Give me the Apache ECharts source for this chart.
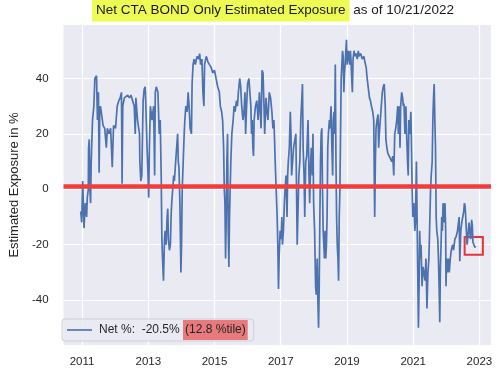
<!DOCTYPE html>
<html>
<head>
<meta charset="utf-8">
<script src="https://cdn.jsdelivr.net/npm/echarts@6/dist/echarts.min.js"></script>
<style>html,body{margin:0;padding:0;background:#fff}#c{width:500px;height:376px}</style>
</head>
<body>
<div id="c"></div>
<script>
// Decimal-year dates and estimated net exposure (%)
const years = [
2010.959,2010.989,2011.019,2011.059,2011.098,2011.138,2011.158,2011.188,2011.197,2011.217,2011.237,2011.257,2011.277,2011.316,2011.356,2011.386,2011.436,2011.465,2011.495,2011.515,2011.535,2011.555,2011.614,2011.634,2011.684,2011.733,2011.763,2011.813,2011.862,2011.912,2011.951,2012.011,2012.061,2012.110,2012.150,2012.190,2012.209,2012.229,2012.279,2012.328,2012.378,2012.428,2012.477,2012.527,2012.576,2012.606,2012.626,2012.675,2012.735,2012.745,2012.775,2012.804,2012.844,2012.874,2012.904,
2012.914,2012.963,2012.993,2013.013,2013.033,2013.063,2013.112,2013.162,2013.192,2013.211,2013.241,2013.291,2013.330,2013.360,2013.390,2013.410,2013.430,2013.459,2013.489,2013.509,2013.539,2013.569,2013.588,2013.608,2013.638,2013.668,2013.688,2013.707,2013.737,2013.767,2013.787,2013.827,2013.856,2013.886,2013.906,2013.926,2013.955,2013.985,2014.005,2014.025,2014.055,2014.084,2014.104,2014.134,2014.174,2014.203,2014.233,2014.263,2014.303,2014.323,2014.352,2014.382,2014.422,2014.452,2014.481,2014.521,2014.551,2014.580,2014.620,2014.650,2014.680,2014.700,2014.749,2014.779,2014.799,2014.848,2014.898,2014.947,2014.997,2015.047,2015.096,2015.146,2015.176,2015.215,2015.245,2015.275,2015.295,2015.315,2015.334,2015.354,2015.374,2015.394,2015.414,2015.434,2015.453,
2015.493,2015.523,2015.563,2015.592,2015.622,2015.662,2015.692,2015.721,2015.761,2015.791,2015.821,2015.860,2015.890,2015.920,2015.940,2015.969,2015.999,2016.039,2016.068,2016.098,2016.118,2016.138,2016.158,2016.178,2016.197,2016.237,2016.277,2016.317,2016.356,2016.386,2016.406,2016.436,2016.465,2016.495,2016.515,2016.555,2016.584,2016.614,2016.654,2016.693,2016.733,2016.763,2016.793,2016.813,2016.832,2016.862,2016.892,2016.912,2016.932,2016.951,2016.981,2017.011,2017.031,2017.051,2017.080,2017.110,2017.130,2017.160,2017.190,2017.209,2017.229,2017.259,2017.289,2017.309,2017.328,2017.358,2017.388,2017.428,2017.457,2017.477,2017.497,2017.517,2017.547,2017.576,2017.606,2017.626,2017.656,2017.676,2017.705,2017.725,2017.755,2017.785,2017.824,2017.854,2017.874,2017.904,2017.924,2017.953,
2017.973,2017.993,2018.023,2018.053,2018.072,2018.102,2018.122,2018.142,2018.162,2018.182,2018.201,2018.221,2018.241,2018.261,2018.281,2018.301,2018.320,2018.340,2018.360,2018.380,2018.400,2018.420,2018.439,2018.469,2018.489,2018.519,2018.539,2018.568,2018.588,2018.608,2018.628,2018.648,2018.668,2018.687,2018.707,2018.727,2018.747,2018.767,2018.787,2018.806,2018.826,2018.846,2018.866,2018.886,2018.906,2018.925,2018.945,2018.965,2018.985,2019.005,2019.025,2019.045,2019.064,2019.084,2019.104,2019.124,2019.144,2019.164,2019.184,2019.213,2019.243,2019.273,2019.312,2019.342,2019.362,2019.412,2019.461,2019.511,2019.541,2019.580,2019.610,2019.640,2019.680,2019.709,2019.739,2019.779,2019.809,2019.828,2019.838,2019.858,2019.878,2019.908,2019.938,2019.957,2019.977,2020.007,2020.037,2020.067,2020.096,2020.126,2020.156,2020.176,2020.205,2020.235,2020.275,2020.314,2020.354,2020.384,2020.414,2020.443,2020.473,2020.503,
2020.533,2020.553,2020.582,2020.602,2020.622,2020.652,2020.682,2020.701,2020.721,2020.751,2020.781,2020.801,2020.830,2020.850,2020.870,2020.900,2020.930,2020.949,2020.969,2020.989,2021.019,2021.049,2021.068,2021.098,2021.118,2021.138,2021.158,2021.178,2021.197,2021.217,2021.237,2021.267,2021.297,2021.326,2021.356,2021.386,2021.416,2021.445,2021.475,2021.495,2021.525,2021.545,2021.574,2021.594,2021.614,2021.634,2021.654,2021.674,2021.694,2021.713,2021.743,2021.763,2021.783,2021.803,2021.822,2021.842,2021.862,2021.882,2021.902,2021.922,2021.941,2021.961,2021.981,2021.991,2022.011,2022.031,2022.061,2022.090,2022.120,2022.150,2022.190,2022.219,2022.259,2022.299,2022.338,2022.368,2022.388,2022.408,2022.438,2022.467,2022.497,2022.527,2022.547,2022.567,2022.586,2022.606,2022.626,2022.646,2022.666,2022.686,2022.705,2022.735,2022.765,2022.785,2022.804,2022.834,2022.864,2022.884
];
const netExposure = [
-8,-12,3,-14,-5,-10,-3,0,15,18,0,-5,10,25,30,40,41,25,35,6,28,30,25,23,22,15,22,20,22,8,23,22,30,32,33,35,2,30,33,33,34,33,34,32,30,20,33,25,20,10,3,5,32,36,37,
35,15,5,-3,15,30,25,30,5,35,37,35,20,25,5,-18,-25,-33,-18,-15,-20,-10,-7,-18,-22,-20,-10,-5,0,5,3,10,15,20,10,8,-5,-30,-20,0,10,20,25,30,28,35,30,22,20,38,45,47,45,47,48,47,49,45,47,35,30,45,48,47,46,45,44,42,43,40,37,35,30,28,25,15,0,-5,-25,-10,10,20,-15,-28,-10,
10,20,25,30,28,32,30,35,40,37,30,25,28,35,20,30,38,40,35,30,20,25,15,12,25,30,32,25,35,27,22,43,42,30,20,33,28,25,35,33,28,22,25,18,10,0,-10,-20,-36,-25,-15,-18,-10,-20,-15,-5,0,5,-10,5,10,15,28,20,5,10,15,18,20,0,-20,-10,5,10,25,30,38,15,5,-10,10,12,25,5,-5,10,15,5,
20,-5,-15,-35,-38,-25,-40,-50,-35,-10,10,20,22,0,-15,-20,-25,-15,-25,-20,-10,15,20,25,22,30,18,5,25,28,20,45,10,-10,-20,-25,-33,-10,0,20,40,45,50,48,35,42,45,50,54,45,48,50,47,45,50,46,40,35,47,50,48,49,47,50,48,49,47,48,46,44,40,37,33,32,30,28,25,0,-10,10,22,25,27,15,20,25,30,35,37,38,30,18,15,13,12,12,10,12,5,20,22,25,
30,20,30,15,30,35,33,30,31,20,30,20,10,5,25,20,28,15,0,-10,-5,-15,-12,10,-10,-30,-50,-35,-15,-25,-20,-35,-28,-30,-33,-25,-43,-30,-25,-15,0,5,10,25,33,38,25,15,-10,-15,-18,-25,-35,-48,-28,-20,-10,-15,-5,-8,-12,-5,-15,-35,-25,-30,-25,-30,-25,-22,-20,-22,-18,-17,-15,-12,-10,-26,-15,-12,-10,-8,-5,-6,-10,-15,-20,-18,-15,-12,-15,-18,-11,-13,-19,-20,-21,-20.5
];
const xTickLabels = [2011, 2013, 2015, 2017, 2019, 2021, 2023];
const yTickLabels = [-40, -20, 0, 20, 40];
const referenceLevel = 1;
const lastValueText = '-20.5%';
const percentileText = '12.8 %tile';
const titleMain = 'Net CTA BOND Only Estimated Exposure';
const titleRest = ' as of 10/21/2022';

const seriesData = years.map((y, i) => [y, netExposure[i]]);
const last = seriesData[seriesData.length - 1];

const chart = echarts.init(document.getElementById('c'), null, {renderer: 'canvas'});
const FONT = 'Liberation Sans, Arial, sans-serif';
chart.setOption({
  animation: false,
  backgroundColor: '#ffffff',
  textStyle: {fontFamily: FONT},
  title: {
    left: 92, top: 3, padding: 0,
    text: '{h|' + titleMain + '}{n|' + titleRest + '}',
    textStyle: {
      fontFamily: FONT, fontWeight: 'normal',
      rich: {
        h: {fontSize: 13.5, fontWeight: 'normal', color: '#1a1a1a', backgroundColor: '#EEFB55', padding: [5, 4, 4, 4], lineHeight: 14, fontFamily: FONT},
        n: {fontSize: 13.5, fontWeight: 'normal', color: '#1a1a1a', padding: [5, 0, 4, 0], lineHeight: 14, fontFamily: FONT}
      }
    }
  },
  grid: {left: 57, right: 9, top: 25, bottom: 31, show: true, backgroundColor: '#EAEAF2', borderWidth: 0},
  xAxis: {
    type: 'value', min: 2010.44, max: 2023.35,
    axisLine: {show: false},
    axisTick: {show: false, customValues: xTickLabels},
    axisLabel: {customValues: xTickLabels, color: '#262626', fontSize: 11.5, margin: 11, fontFamily: FONT, formatter: v => String(v)},
    splitLine: {show: true, lineStyle: {color: '#ffffff', width: 1.2}}
  },
  yAxis: {
    type: 'value', min: -56.2, max: 59.3,
    name: 'Estimated Exposure in %', nameLocation: 'middle', nameGap: 33,
    nameTextStyle: {fontSize: 13, color: '#262626', fontFamily: FONT},
    axisLine: {show: false},
    axisTick: {show: false, customValues: yTickLabels},
    axisLabel: {customValues: yTickLabels, color: '#262626', fontSize: 11.5, margin: 15, fontFamily: FONT},
    splitLine: {show: true, lineStyle: {color: '#ffffff', width: 1.2}}
  },
  legend: {
    left: 62, top: 319, orient: 'horizontal',
    backgroundColor: 'rgba(234,234,242,0.85)', borderColor: '#cfcfd6', borderWidth: 1, borderRadius: 3,
    padding: [1, 6, 1, 5],
    icon: 'path://M0 0H30V2H0Z', itemWidth: 25, itemHeight: 2, itemGap: 8,
    formatter: name => '{a|' + name + ':  ' + lastValueText + ' }{b|(' + percentileText + ')}',
    textStyle: {
      fontFamily: FONT,
      rich: {
        a: {fontSize: 12, color: '#262626', fontFamily: FONT, padding: [0, 0, 0, 2]},
        b: {fontSize: 12, color: '#262626', fontFamily: FONT, backgroundColor: '#E8797C', padding: [4, 2, 4, 2]}
      }
    },
    data: ['Net %']
  },
  series: [{
    name: 'Net %', type: 'line', data: seriesData, showSymbol: false, symbol: 'none',
    lineStyle: {color: '#4C72B0', width: 1.7}, itemStyle: {color: '#4C72B0'},
    z: 3,
    markLine: {
      silent: true, symbol: 'none', label: {show: false},
      lineStyle: {color: '#F23C3C', width: 4.5, type: 'solid'},
      data: [{yAxis: referenceLevel}]
    },
    markArea: {
      silent: true,
      itemStyle: {color: 'rgba(0,0,0,0)', borderColor: '#E8333B', borderWidth: 2},
      data: [[{coord: [last[0] - 0.33, last[1] + 3.3]}, {coord: [last[0] + 0.22, last[1] - 3.1]}]]
    }
  }]
});
</script>
</body>
</html>
